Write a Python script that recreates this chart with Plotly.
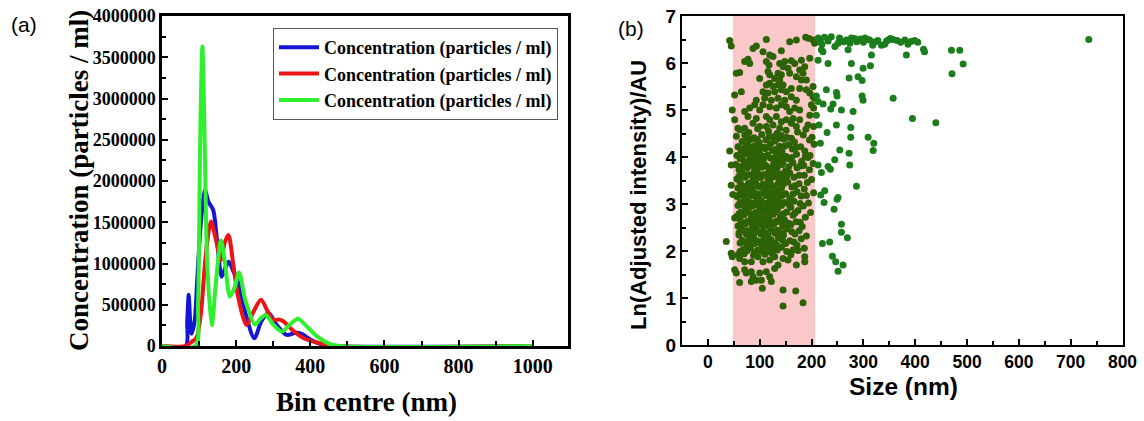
import plotly.graph_objects as go

# ---------------- panel (a): size distributions ----------------
blue_x = [0, 64, 68, 72, 76, 80, 88, 95, 105, 116, 125, 138, 148, 161, 171, 180, 193, 206,
          225, 249, 268, 287, 310, 336, 360, 375, 400, 430, 455, 1000]
blue_y = [0, 0, 300000, 620000, 300000, 150000, 300000, 800000, 1500000, 1890000, 1750000,
          1650000, 1300000, 840000, 950000, 1020000, 900000, 760000, 400000, 95000, 300000,
          400000, 250000, 135000, 160000, 150000, 80000, 20000, 0, 0]

red_x = [0, 64, 80, 93, 105, 118, 132, 145, 159, 169, 179, 192, 205, 228, 245, 267, 285,
         300, 315, 327, 350, 380, 420, 470, 1000]
red_y = [0, 0, 50000, 100000, 400000, 1100000, 1510000, 1300000, 1040000, 1250000, 1345000,
         1000000, 600000, 255000, 400000, 560000, 420000, 315000, 320000, 300000, 200000,
         100000, 40000, 0, 0]

green_x = [0, 90, 97, 103, 109, 115, 122, 134, 146, 159, 170, 183, 195, 208, 225, 251, 265,
           280, 300, 323, 345, 367, 390, 420, 450, 480, 1000]
green_y = [0, 0, 500000, 2500000, 3630000, 2500000, 1000000, 250000, 800000, 1280000, 1000000,
           600000, 700000, 890000, 550000, 260000, 330000, 375000, 260000, 175000, 260000,
           330000, 240000, 110000, 30000, 0, 0]

series_name = "Concentration (particles / ml)"
a_xticks = [0, 200, 400, 600, 800, 1000]
a_yticks = [0, 500000, 1000000, 1500000, 2000000, 2500000, 3000000, 3500000, 4000000]

# ---------------- panel (b): particle size vs. scattering intensity ----------------
# highlighted size window (nm)
band_lo, band_hi = 48, 207

upper_size = [42, 45, 112.7, 157.8, 170.7, 188.7, 195.2, 202.9, 206, 93.4, 87, 106.3, 141.7,
              119.2, 125.6, 70.9, 77.3, 80.6, 112.7, 117.9, 138.5, 148.2, 145, 161, 167.5,
              180.4, 196.5, 177.1, 186.8, 183.6, 154.6, 157.8, 54.8, 61.2, 116, 119.2, 135.3,
              141.7, 128.9, 138.5, 99.9, 170.7, 180.4, 190, 112.7, 119.2, 125.6, 135.3, 145,
              177.1, 190, 106.3, 116, 128.9, 141.7, 151.4, 161, 202.9, 196.5, 64.5, 51.6,
              109.5, 122.4, 135.3, 148.2, 161, 170.7, 93.4, 90.2, 80.6, 70.9, 77.3, 106.3,
              99.9, 119.2, 132.1, 141.7, 151.4, 157.8, 167.5, 177.1, 202.9, 206, 199.7, 204,
              196.5, 47, 93.4, 112.7, 119.2, 132.1, 141.7, 151.4, 164.3, 177.1, 87, 99.9,
              112.7, 125.6, 138.5, 161, 170.7, 193.2, 204, 51.6, 58, 70.9]
upper_ln = [6.48, 6.36, 6.50, 6.45, 6.49, 6.55, 6.52, 6.49, 6.42, 6.36, 6.31, 6.24, 6.26,
            6.17, 6.14, 6.03, 6.08, 5.99, 6.03, 5.96, 5.99, 6.03, 5.92, 6.05, 5.99, 6.06, 6.10,
            5.85, 5.92, 5.78, 5.89, 5.78, 5.78, 5.80, 5.82, 5.75, 5.78, 5.75, 5.67, 5.64, 5.67,
            5.71, 5.64, 5.64, 5.53, 5.57, 5.50, 5.53, 5.53, 5.46, 5.43, 5.39, 5.36, 5.39, 5.43,
            5.39, 5.46, 5.50, 5.36, 5.39, 5.32, 5.25, 5.21, 5.25, 5.21, 5.28, 5.21, 5.21, 5.11,
            5.04, 4.97, 4.86, 5.11, 5.00, 5.07, 5.04, 5.11, 5.07, 4.97, 5.04, 5.00, 5.28, 5.25,
            5.11, 5.04, 4.89, 5.00, 4.82, 4.86, 4.79, 4.86, 4.75, 4.79, 4.82, 4.79, 4.72, 4.65,
            4.65, 4.68, 4.61, 4.72, 4.65, 4.68, 4.65, 4.79, 4.61, 4.61]

core_size = [62, 79, 96, 117, 133, 151, 173, 189,
             55, 71, 89, 104, 126, 141, 161, 184, 201,
             66, 83, 99, 112, 129, 147, 167, 196,
             58, 77, 91, 107, 121, 138, 156, 179, 205,
             64, 81, 95, 111, 125, 143, 163, 187,
             56, 73, 87, 101, 115, 132, 151, 171, 197,
             62, 78, 93, 107, 121, 135, 157, 181, 193,
             54, 70, 85, 97, 112, 127, 143, 164, 185, 203,
             60, 76, 90, 104, 118, 133, 150, 172, 196,
             66, 82, 96, 109, 124, 140, 158, 186,
             56, 72, 88, 102, 116, 130, 146, 166, 200,
             62, 78, 92, 106, 120, 136, 154, 176, 192,
             58, 74, 86, 100, 114, 128, 142, 162, 186,
             64, 80, 94, 108, 122, 136, 150, 172, 204,
             56, 70, 84, 98, 112, 126, 140, 158, 180,
             62, 76, 90, 104, 118, 132, 148, 166, 194,
             58, 72, 86, 100, 114, 128, 142, 160, 184,
             64, 78, 92, 106, 120, 134, 152, 174, 198,
             56, 70, 84, 98, 112, 126, 140, 164, 188,
             62, 76, 90, 104, 118, 132, 148, 170,
             58, 72, 86, 100, 114, 128, 144, 160, 182,
             64, 78, 92, 106, 120, 134, 152, 176,
             60, 74, 88, 102, 116, 130, 146, 168, 190,
             66, 80, 94, 108, 122, 136, 158, 180,
             62, 76, 90, 104, 118, 132, 150, 172,
             68, 82, 96, 112, 126, 142, 164, 186,
             85, 103, 118, 90, 110, 125, 95, 80, 115, 100, 88, 110, 125, 130, 75, 97, 120, 138,
             68, 145, 105, 82, 93, 108, 128, 140, 72, 115, 100, 88]
core_ln = [4.58, 4.52, 4.60, 4.55, 4.50, 4.57, 4.53, 4.59,
           4.44, 4.47, 4.41, 4.48, 4.43, 4.46, 4.40, 4.47, 4.42,
           4.33, 4.37, 4.31, 4.36, 4.34, 4.38, 4.32, 4.36,
           4.22, 4.27, 4.24, 4.21, 4.28, 4.23, 4.26, 4.22, 4.27,
           4.13, 4.16, 4.12, 4.18, 4.14, 4.11, 4.17, 4.13,
           4.03, 4.07, 4.02, 4.06, 4.04, 4.08, 4.01, 4.06, 4.03,
           3.97, 3.92, 3.96, 3.93, 3.98, 3.94, 3.96, 3.91, 3.99,
           3.84, 3.88, 3.83, 3.87, 3.82, 3.86, 3.84, 3.88, 3.82, 3.86,
           3.73, 3.77, 3.72, 3.78, 3.74, 3.76, 3.71, 3.77, 3.73,
           3.67, 3.62, 3.66, 3.63, 3.68, 3.64, 3.66, 3.61,
           3.53, 3.57, 3.52, 3.56, 3.53, 3.58, 3.54, 3.57, 3.52,
           3.47, 3.43, 3.46, 3.42, 3.48, 3.44, 3.47, 3.43, 3.46,
           3.34, 3.37, 3.32, 3.36, 3.33, 3.38, 3.34, 3.36, 3.32,
           3.23, 3.27, 3.22, 3.26, 3.24, 3.28, 3.22, 3.26, 3.24,
           3.16, 3.12, 3.17, 3.13, 3.18, 3.14, 3.16, 3.12, 3.17,
           3.03, 3.07, 3.02, 3.06, 3.04, 3.08, 3.03, 3.06, 3.02,
           2.97, 2.93, 2.96, 2.92, 2.98, 2.94, 2.97, 2.93, 2.96,
           2.83, 2.87, 2.82, 2.86, 2.84, 2.88, 2.83, 2.86, 2.82,
           2.74, 2.77, 2.72, 2.76, 2.73, 2.78, 2.74, 2.76, 2.72,
           2.67, 2.63, 2.66, 2.62, 2.68, 2.64, 2.66, 2.62,
           2.53, 2.57, 2.52, 2.56, 2.54, 2.58, 2.53, 2.56, 2.52,
           2.47, 2.43, 2.46, 2.42, 2.48, 2.44, 2.47, 2.43,
           2.34, 2.37, 2.32, 2.36, 2.33, 2.38, 2.34, 2.36, 2.32,
           2.23, 2.27, 2.22, 2.26, 2.24, 2.28, 2.22, 2.26,
           2.17, 2.13, 2.16, 2.12, 2.18, 2.14, 2.16, 2.12,
           2.03, 2.07, 2.02, 2.06, 2.04, 2.08, 2.02, 2.06,
           4.10, 3.90, 3.70, 3.60, 3.40, 3.20, 3.10, 3.00, 2.90, 2.70, 2.50, 2.30, 2.60, 2.40,
           2.35, 2.20, 2.10, 3.50, 3.30, 3.90, 4.20, 3.45, 2.80, 2.55, 3.00, 2.75, 2.60, 2.20,
           3.80, 3.95]

# second, offset layer of the dense population around 60-190 nm
fill_size = [76, 95, 118, 135, 152,
             70, 88, 100, 116, 132, 148, 170,
             66, 82, 96, 110, 126, 142, 162, 188,
             64, 80, 94, 108, 122, 138, 156, 178,
             60, 76, 92, 105, 119, 134, 152, 176,
             66, 83, 97, 112, 125, 146, 168,
             60, 74, 88, 102, 116, 130, 144, 164, 190,
             66, 82, 96, 110, 124, 138, 156, 178,
             60, 74, 86, 100, 114, 128, 146, 168,
             66, 80, 94, 108, 122, 138, 156, 178,
             60, 72, 86, 98, 112, 126, 142, 162,
             70, 84, 100, 114, 128, 144, 166,
             62, 76, 90, 104, 120, 134, 152, 174,
             58, 70, 88, 110, 124, 160]
fill_ln = [4.41, 4.38, 4.43, 4.39, 4.42,
           4.19, 4.22, 4.18, 4.21, 4.17, 4.23, 4.20,
           3.99, 4.02, 3.98, 4.01, 3.97, 4.03, 3.99, 4.01,
           3.79, 3.82, 3.78, 3.81, 3.77, 3.83, 3.79, 3.81,
           3.59, 3.62, 3.58, 3.61, 3.57, 3.63, 3.59, 3.61,
           3.39, 3.42, 3.38, 3.41, 3.37, 3.43, 3.39,
           3.19, 3.22, 3.18, 3.21, 3.17, 3.23, 3.19, 3.21, 3.18,
           2.99, 3.02, 2.98, 3.01, 2.97, 3.03, 2.99, 3.01,
           2.79, 2.82, 2.78, 2.81, 2.77, 2.83, 2.79, 2.81,
           2.59, 2.62, 2.58, 2.61, 2.57, 2.63, 2.59, 2.61,
           2.39, 2.42, 2.38, 2.41, 2.37, 2.43, 2.39, 2.41,
           2.19, 2.22, 2.18, 2.21, 2.17, 2.23, 2.19,
           1.99, 2.01, 1.97, 2.00, 1.98, 2.02, 1.99, 2.01,
           1.92, 1.94, 1.91, 1.93, 1.95, 1.92]

lower_size = [35.5, 45, 47, 42, 45, 45, 48, 51.6, 51.6, 54.8, 61.2, 70.9, 83.8, 96.6, 106.3,
              119.2, 128.8, 135.3, 145, 154.6, 170.7, 186.8, 186.8, 70.9, 74.1, 83.8, 87, 99.9,
              112.7, 119.2, 128.8, 93.4, 103.1, 83.8, 61.2, 122.4, 105, 145, 169.4, 145, 183.6]
lower_ln = [2.20, 1.95, 1.88, 4.13, 3.83, 3.40, 3.20, 2.70, 1.60, 1.53, 1.84, 1.77, 1.77,
            1.88, 1.77, 1.81, 1.88, 1.70, 1.84, 1.81, 1.70, 1.88, 1.77, 1.60, 1.53, 1.56, 1.45,
            1.53, 1.56, 1.45, 1.63, 1.38, 1.38, 1.35, 1.33, 1.35, 1.21, 1.17, 1.15, 0.83, 0.90]

outer_size = [213, 217, 225, 238, 251, 254, 267, 274, 277, 287, 294, 303, 312, 318, 328, 335,
              341, 348, 357, 365, 380, 386, 399, 416, 418,
              220, 232, 245, 262, 283, 300, 308, 323, 345, 352, 372, 392, 405,
              219, 222, 270.5, 315.5, 383, 212.5, 231.8, 276.9, 299.4, 313.6, 272.4, 289.8,
              297.5, 228.6, 248, 249.2, 297.5, 299.4, 357.4, 209.3, 212.5, 222.2, 241.5, 237,
              257.6, 280.1, 209.3, 394.7, 439.8, 214.4, 248, 275.6, 229.9, 275.6, 309.1, 320,
              217, 254.4, 272.4, 318.8, 244.7, 212.5, 231.8, 236.3, 273.7, 219,
              286.6, 225.4, 217.7, 251.1, 249.2, 224.1, 243.4, 257.6, 257.6, 269.2, 220.9, 235,
              240.2, 246.6, 260.8, 251.1,
              735, 470, 486, 471, 492.5]
outer_ln = [6.53, 6.45, 6.55, 6.56, 6.42, 6.53, 6.49, 6.42, 6.53, 6.45, 6.51, 6.53, 6.49, 6.38,
            6.48, 6.38, 6.40, 6.49, 6.50, 6.48, 6.49, 6.40, 6.48, 6.29, 6.24,
            6.40, 6.47, 6.35, 6.45, 6.52, 6.44, 6.50, 6.45, 6.47, 6.52, 6.44, 6.46, 6.44,
            6.28, 6.24, 6.28, 6.17, 6.17, 6.06, 5.99, 5.99, 5.89, 5.94, 5.68, 5.71,
            5.63, 5.43, 5.37, 5.30, 5.30, 5.21, 5.25, 5.30, 5.18, 5.13, 5.13, 5.02,
            5.00, 4.97, 4.89, 4.82, 4.73, 4.68, 4.68, 4.63, 4.52, 4.42, 4.42, 4.29,
            4.29, 4.15, 4.08, 4.14, 3.94, 3.83, 3.80, 3.74, 3.83, 3.67,
            3.38, 3.28, 3.19, 3.14, 3.10, 3.03, 2.89, 2.57, 2.40, 2.28, 2.16, 2.19,
            1.89, 1.77, 1.70, 1.57,
            6.50, 6.27, 6.27, 5.77, 5.98]

b_xticks = [0, 100, 200, 300, 400, 500, 600, 700, 800]
b_yticks = [0, 1, 2, 3, 4, 5, 6, 7]

sizes = upper_size + core_size + fill_size + lower_size + outer_size
intensities = upper_ln + core_ln + fill_ln + lower_ln + outer_ln
dot_colors = ["#2d6306" if s <= band_hi else "#1c7d1c" for s in sizes]

SERIF = "Liberation Serif"
SANS = "Liberation Sans"
W, H = 1144, 421


def px_x(p):
    return p / W


def px_y(p):
    return (H - p) / H


fig = go.Figure()

for name_x, name_y, colour in [(blue_x, blue_y, "#1515d6"),
                               (red_x, red_y, "#ec1515"),
                               (green_x, green_y, "#2ef02e")]:
    fig.add_trace(go.Scatter(
        x=name_x, y=name_y, mode="lines", name=series_name,
        line=dict(color=colour, width=4, shape="spline", smoothing=0.8),
        xaxis="x", yaxis="y",
    ))

fig.add_trace(go.Scatter(
    x=sizes, y=intensities, mode="markers", showlegend=False,
    marker=dict(size=7, color=dot_colors, line=dict(width=0)),
    xaxis="x2", yaxis="y2",
))

frame = dict(showline=True, linecolor="black", mirror=True, ticks="inside",
             tickcolor="black", showgrid=False, zeroline=False)


def label(text, x, y, family, size, bold=True, angle=0):
    return dict(text=text, x=px_x(x), y=px_y(y), xref="paper", yref="paper",
                xanchor="center", yanchor="middle", textangle=angle, showarrow=False,
                font=dict(family=family, size=size, color="black",
                          weight="bold" if bold else "normal"))


fig.update_layout(
    width=W, height=H,
    margin=dict(l=0, r=0, t=0, b=0, autoexpand=False),
    paper_bgcolor="white", plot_bgcolor="white",
    showlegend=True,
    legend=dict(
        x=px_x(273), y=px_y(28), xanchor="left", yanchor="top",
        xref="paper", yref="paper",
        bgcolor="white", bordercolor="#555555", borderwidth=1,
        font=dict(family=SERIF, size=18, color="black", weight="bold"),
        itemwidth=40, tracegroupgap=0,
    ),
    xaxis=dict(domain=[px_x(162), px_x(568)], range=[0, 1095], anchor="y",
               tickvals=a_xticks, ticklen=6, tickwidth=2, linewidth=2.5,
               minor=dict(dtick=100, ticks="inside", ticklen=5, tickwidth=2, tickcolor="black"),
               tickfont=dict(family=SERIF, size=20, color="black", weight="bold"),
               **frame),
    yaxis=dict(domain=[px_y(346), px_y(16)], range=[0, 4000000], anchor="x",
               tickvals=a_yticks, ticktext=[str(v) for v in a_yticks],
               ticklen=6, tickwidth=2, linewidth=2.5,
               minor=dict(dtick=250000, ticks="inside", ticklen=4, tickwidth=2, tickcolor="black"),
               tickfont=dict(family=SERIF, size=18, color="black", weight="bold"),
               **frame),
    xaxis2=dict(domain=[px_x(682), px_x(1122.5)], range=[-50, 800], anchor="y2",
                tickvals=b_xticks, ticklen=6, tickwidth=2, linewidth=2,
                minor=dict(dtick=50, ticks="inside", ticklen=4, tickwidth=1.5, tickcolor="black"),
                tickfont=dict(family=SANS, size=17.5, color="black", weight="bold"),
                **frame),
    yaxis2=dict(domain=[px_y(345), px_y(16)], range=[0, 7], anchor="x2",
                tickvals=b_yticks, ticklen=6, tickwidth=2, linewidth=2,
                minor=dict(dtick=0.5, ticks="inside", ticklen=4, tickwidth=1.5, tickcolor="black"),
                tickfont=dict(family=SANS, size=19, color="black", weight="bold"),
                **frame),
    shapes=[dict(type="rect", xref="x2", yref="y2", x0=band_lo, x1=band_hi, y0=0, y1=7,
                 fillcolor="#fac8c8", line=dict(width=0), layer="below")],
    annotations=[
        label("(a)", 24, 25, SANS, 21, bold=False),
        label("(b)", 631, 28, SANS, 21, bold=False),
        label("Concentration (particles / ml)", 79, 180, SERIF, 27, angle=-90),
        label("Bin centre (nm)", 366, 402, SERIF, 27),
        label("Ln(Adjusted intensity)/AU", 638, 195, SANS, 22, angle=-90),
        label("Size (nm)", 903, 386, SANS, 24.5),
    ],
)

fig.write_html("out.html")
